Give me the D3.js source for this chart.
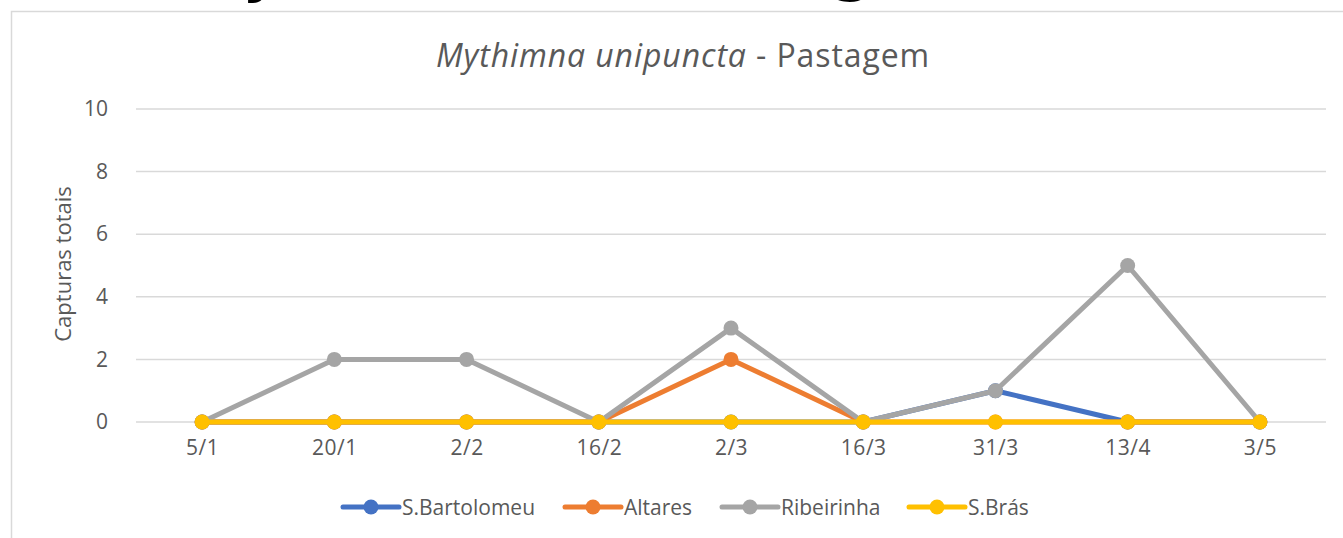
<!DOCTYPE html>
<html><head><meta charset="utf-8">
<script src="https://cdn.jsdelivr.net/npm/d3@7"></script>
<style>
body{margin:0;background:#fff;}
svg{display:block;font-family:"Open Sans","Noto Sans",sans-serif;}
</style></head>
<body><svg id="c" width="1343" height="538"></svg>
<script>
const categories = ["5/1","20/1","2/2","16/2","2/3","16/3","31/3","13/4","3/5"];
const seriesNames = ["S.Bartolomeu","Altares","Ribeirinha","S.Brás"];
const sBartolomeu = [0,0,0,0,0,0,1,0,0];
const altares     = [0,0,0,0,2,0,0,0,0];
const ribeirinha  = [0,2,2,0,3,0,1,5,0];
const sBras       = [0,0,0,0,0,0,0,0,0];
const yTicks = [0,2,4,6,8,10];
const colors = ["#4472C4","#ED7D31","#A5A5A5","#FFC000"];
const seriesValues = [sBartolomeu, altares, ribeirinha, sBras];

const svg = d3.select("#c");
const txt = "#595959";

// fragments of a heading above, cut off by the page edge
svg.append("text").attr("x",250).attr("y",-9).attr("font-family","DejaVu Sans").attr("font-weight","bold")
  .attr("font-size",58).attr("fill","#000").text("j");
svg.append("text").attr("x",832).attr("y",-10).attr("font-family","DejaVu Sans").attr("font-weight","bold")
  .attr("font-size",58).attr("fill","#000").text("g");

// chart area border
svg.append("rect").attr("x",11.5).attr("y",11.5).attr("width",1400).attr("height",600)
  .attr("fill","#fff").attr("stroke","#d9d9d9").attr("stroke-width",1.5);

const x = d3.scalePoint().domain(categories).range([136,1326]).padding(0.5);
const y = d3.scaleLinear().domain([0,10]).range([422,109]);

// gridlines
svg.append("g").selectAll("line").data(yTicks).join("line")
  .attr("x1",136).attr("x2",1326).attr("y1",d=>y(d)).attr("y2",d=>y(d))
  .attr("stroke","#d9d9d9").attr("stroke-width",1.5);

// y axis labels
const yAxis = svg.append("g").attr("transform","translate(136,0)")
  .call(d3.axisLeft(y).tickValues(yTicks).tickSize(0).tickPadding(28));
yAxis.select(".domain").remove();
yAxis.selectAll("text").attr("font-size",21).attr("fill",txt).attr("font-family","Open Sans");

// x axis labels
const xAxis = svg.append("g").attr("transform","translate(0,422)")
  .call(d3.axisBottom(x).tickSize(0).tickPadding(18));
xAxis.select(".domain").remove();
xAxis.selectAll("text").attr("font-size",21).attr("fill",txt).attr("font-family","Open Sans").attr("letter-spacing",0.5);

// title
const title = svg.append("text").attr("x",683).attr("y",67).attr("text-anchor","middle")
  .attr("font-size",32).attr("letter-spacing",0.9).attr("fill",txt);
title.append("tspan").attr("font-style","italic").text("Mythimna unipuncta");
title.append("tspan").text(" - Pastagem");

// y axis title
svg.append("text").attr("transform","translate(71,264) rotate(-90)").attr("text-anchor","middle")
  .attr("font-size",22).attr("fill",txt).text("Capturas totais");

// series
const line = d3.line().x((d,i)=>x(categories[i])).y(d=>y(d));
seriesValues.forEach((vals,si)=>{
  const g = svg.append("g");
  g.append("path").datum(vals).attr("d",line).attr("fill","none")
    .attr("stroke",colors[si]).attr("stroke-width",5).attr("stroke-linejoin","round");
  g.selectAll("circle").data(vals).join("circle")
    .attr("cx",(d,i)=>x(categories[i])).attr("cy",d=>y(d)).attr("r",7.5).attr("fill",colors[si]);
});

// legend
const legendX = [343,565,722,909];
const lg = svg.append("g");
seriesNames.forEach((n,i)=>{
  const g = lg.append("g").attr("transform",`translate(${legendX[i]},507)`);
  g.append("line").attr("x1",0).attr("x2",56).attr("stroke",colors[i]).attr("stroke-width",5).attr("stroke-linecap","round");
  g.append("circle").attr("cx",28).attr("r",7.5).attr("fill",colors[i]);
  g.append("text").attr("x",59).attr("y",7.5).attr("font-size",21).attr("fill",txt).text(n);
});
</script></body></html>
